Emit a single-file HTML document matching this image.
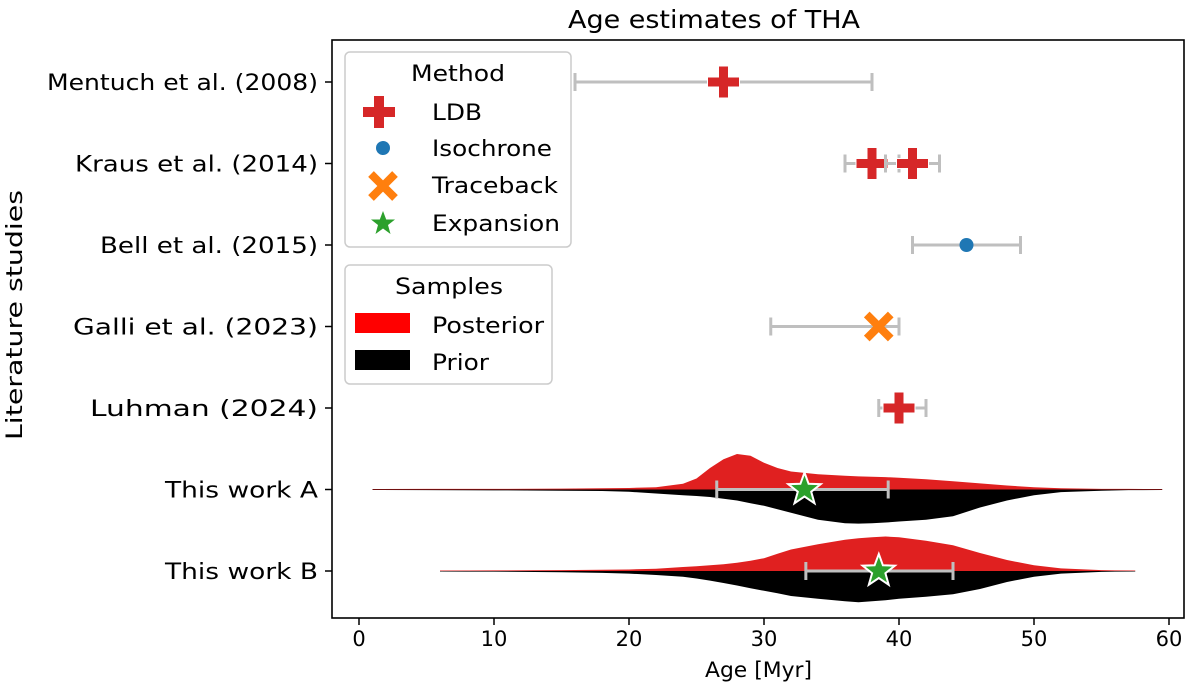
<!DOCTYPE html>
<html><head><meta charset="utf-8"><style>
html,body{margin:0;padding:0;background:#fff;}
svg{display:block;font-family:"DejaVu Sans","Liberation Sans",sans-serif;}
</style></head><body>
<svg id="chart" width="1200" height="690" viewBox="0 0 1200 690" xmlns="http://www.w3.org/2000/svg">
<g id="violins"></g>
<g id="marks"></g>
<rect x="332" y="40" width="852" height="578" fill="none" stroke="#000" stroke-width="1.6"/>
<g id="axes"></g>
<text x="568" y="28" font-size="25" textLength="292" lengthAdjust="spacingAndGlyphs">Age estimates of THA</text>
<text x="705" y="677" font-size="21" textLength="107" lengthAdjust="spacingAndGlyphs">Age [Myr]</text>
<text transform="translate(22,440) rotate(-90)" font-size="22" textLength="250" lengthAdjust="spacingAndGlyphs">Literature studies</text>
<g>
<rect x="345" y="52" width="226" height="195" rx="5" fill="#fff" fill-opacity="0.85" stroke="#ccc" stroke-width="1.5"/>
<text x="411" y="81" font-size="22" textLength="94" lengthAdjust="spacingAndGlyphs">Method</text>
<path d="M367,112 h11 v-11 h10 v11 h11 v10 h-11 v11 h-10 v-11 h-11z" transform="translate(-4,-5)" fill="#d62728"/>
<text x="432" y="120" font-size="22" textLength="50" lengthAdjust="spacingAndGlyphs">LDB</text>
<circle cx="383" cy="148" r="7" fill="#1f77b4"/>
<text x="432" y="156" font-size="22" textLength="120" lengthAdjust="spacingAndGlyphs">Isochrone</text>
<path d="M371,174 l12,12 l12,-12 M371,198 l12,-12 l12,12" stroke="#ff7f0e" stroke-width="8" fill="none"/>
<text x="432" y="193" font-size="22" textLength="126" lengthAdjust="spacingAndGlyphs">Traceback</text>
<polygon points="383,211 386.2,219.5 395,219.5 388,225 390.5,234 383,228.5 375.5,234 378,225 371,219.5 379.8,219.5" fill="#2ca02c"/>
<text x="432" y="231" font-size="22" textLength="128" lengthAdjust="spacingAndGlyphs">Expansion</text>
</g>
<g>
<rect x="345" y="265" width="207" height="119" rx="5" fill="#fff" fill-opacity="0.85" stroke="#ccc" stroke-width="1.5"/>
<text x="395" y="294" font-size="22" textLength="108" lengthAdjust="spacingAndGlyphs">Samples</text>
<rect x="355" y="313" width="55" height="20" fill="#ff0000"/>
<text x="432" y="333" font-size="22" textLength="112" lengthAdjust="spacingAndGlyphs">Posterior</text>
<rect x="355" y="350" width="55" height="20" fill="#000"/>
<text x="432" y="370" font-size="22" textLength="57" lengthAdjust="spacingAndGlyphs">Prior</text>
</g>
</svg>
<script>
const studies = ["Mentuch et al. (2008)","Kraus et al. (2014)","Bell et al. (2015)","Galli et al. (2023)","Luhman (2024)","This work A","This work B"];
const labelLen = [271,243,218,245,228,153,153];
const xTicks = [0,10,20,30,40,50,60];
const estRow = [0,1,1,2,3,4,5,6];
const estVal = [27,38,41,45,38.5,40,33,38.5];
const estLo = [16,36,39,41,30.5,38.5,26.5,33.1];
const estHi = [38,40,43,49,40,42,39.2,44];
const estMethod = ["LDB","LDB","LDB","Isochrone","Traceback","LDB","Expansion","Expansion"];
const agesA = [1,5,10,15,18,20,22,24,25,26,27,28,29,30,31,32,34,36,37,38,39,40,42,44,46,48,50,52,55,57,59.5];
const postA = [0,0.002,0.003,0.01,0.02,0.03,0.05,0.15,0.3,0.6,0.85,1.0,0.95,0.75,0.6,0.5,0.42,0.38,0.36,0.35,0.34,0.32,0.28,0.22,0.16,0.1,0.05,0.02,0.005,0.002,0];
const priorA = [0,0.003,0.01,0.02,0.03,0.05,0.1,0.15,0.17,0.2,0.25,0.3,0.38,0.45,0.55,0.65,0.85,0.95,0.96,0.95,0.93,0.9,0.85,0.75,0.5,0.3,0.15,0.06,0.02,0.005,0];
const agesB = [6,8,10,15,18,20,22,24,25,26,27,28,29,30,31,32,34,36,37,38,39,40,42,44,46,48,50,52,55,56,57.5];
const postB = [0,0.001,0.003,0.01,0.02,0.03,0.05,0.1,0.12,0.15,0.18,0.22,0.28,0.35,0.48,0.6,0.75,0.88,0.92,0.95,0.97,0.95,0.85,0.72,0.5,0.3,0.15,0.06,0.01,0.003,0];
const priorB = [0,0.002,0.005,0.02,0.04,0.06,0.1,0.15,0.2,0.26,0.33,0.4,0.48,0.55,0.62,0.7,0.78,0.85,0.88,0.85,0.82,0.78,0.72,0.65,0.5,0.3,0.15,0.06,0.01,0.003,0];
const NS="http://www.w3.org/2000/svg";
const X0=359, PX=13.5, Y0=82, DY=81.5, VH=35;
const x=v=>X0+v*PX, y=r=>Y0+r*DY;
function mk(tag,attrs,parent){const e=document.createElementNS(NS,tag);for(const k in attrs)e.setAttribute(k,attrs[k]);parent.appendChild(e);return e;}
const ax=document.getElementById('axes');
xTicks.forEach(t=>{
  const l=mk('line',{x1:x(t),x2:x(t),y1:618,y2:625,stroke:'#000','stroke-width':1.5},ax);
  
  
  const tx=mk('text',{x:x(t),y:646,'font-size':21,'text-anchor':'middle'},ax);tx.textContent=t;
  
  
});
studies.forEach((s,i)=>{
  const l=mk('line',{x1:325,x2:332,y1:y(i),y2:y(i),stroke:'#000','stroke-width':1.5},ax);
  
  
  const tx=mk('text',{x:318,y:y(i)+8,'font-size':22,'text-anchor':'end'},ax);tx.textContent=s;
  tx.setAttribute('textLength',labelLen[i]);
  tx.setAttribute('lengthAdjust','spacingAndGlyphs');
  
  
});
const vg=document.getElementById('violins');
function half(ages,vals,row,sign,color){
  let d='M'+x(ages[0])+','+y(row);
  ages.forEach((a,i)=>{d+=' L'+x(a)+','+(y(row)+sign*(vals[i]*VH+0.5));});
  d+=' L'+x(ages[ages.length-1])+','+y(row)+'Z';
  const p=mk('path',{d:d,fill:color,stroke:'none'},vg);
  
  
}
half(agesA,postA,5,-1,'#e02020');half(agesA,priorA,5,1,'#000');
half(agesB,postB,6,-1,'#e02020');half(agesB,priorB,6,1,'#000');
const mg=document.getElementById('marks');
estVal.forEach((v,i)=>{
  const cy=y(estRow[i]);
  const eb=mk('path',{d:`M${x(estLo[i])},${cy} H${x(estHi[i])} M${x(estLo[i])},${cy-9} V${cy+9} M${x(estHi[i])},${cy-9} V${cy+9}`,stroke:'#bfbfbf','stroke-width':3,fill:'none'},mg);
  
  
  const cx=x(v);let m;
  if(estMethod[i]==='LDB'){
    m=mk('path',{d:`M${cx-16},${cy-5} h11 v-11 h10 v11 h11 v10 h-11 v11 h-10 v-11 h-11z`,fill:'#d62728',stroke:'#fff','stroke-width':1},mg);
  } else if(estMethod[i]==='Isochrone'){
    m=mk('circle',{cx:cx,cy:cy,r:7,fill:'#1f77b4'},mg);
  } else if(estMethod[i]==='Traceback'){
    m=mk('path',{d:`M${cx-12},${cy-12} L${cx+12},${cy+12} M${cx-12},${cy+12} L${cx+12},${cy-12}`,stroke:'#ff7f0e','stroke-width':8,fill:'none'},mg);
  } else {
    const pts=[];for(let k=0;k<10;k++){const r=k%2?7:17,a=-Math.PI/2+k*Math.PI/5;pts.push((cx+r*Math.cos(a)).toFixed(1)+','+(cy+r*Math.sin(a)).toFixed(1));}
    m=mk('polygon',{points:pts.join(' '),fill:'#2ca02c',stroke:'#fff','stroke-width':2},mg);
  }
  
  
});
</script>
</body></html>
